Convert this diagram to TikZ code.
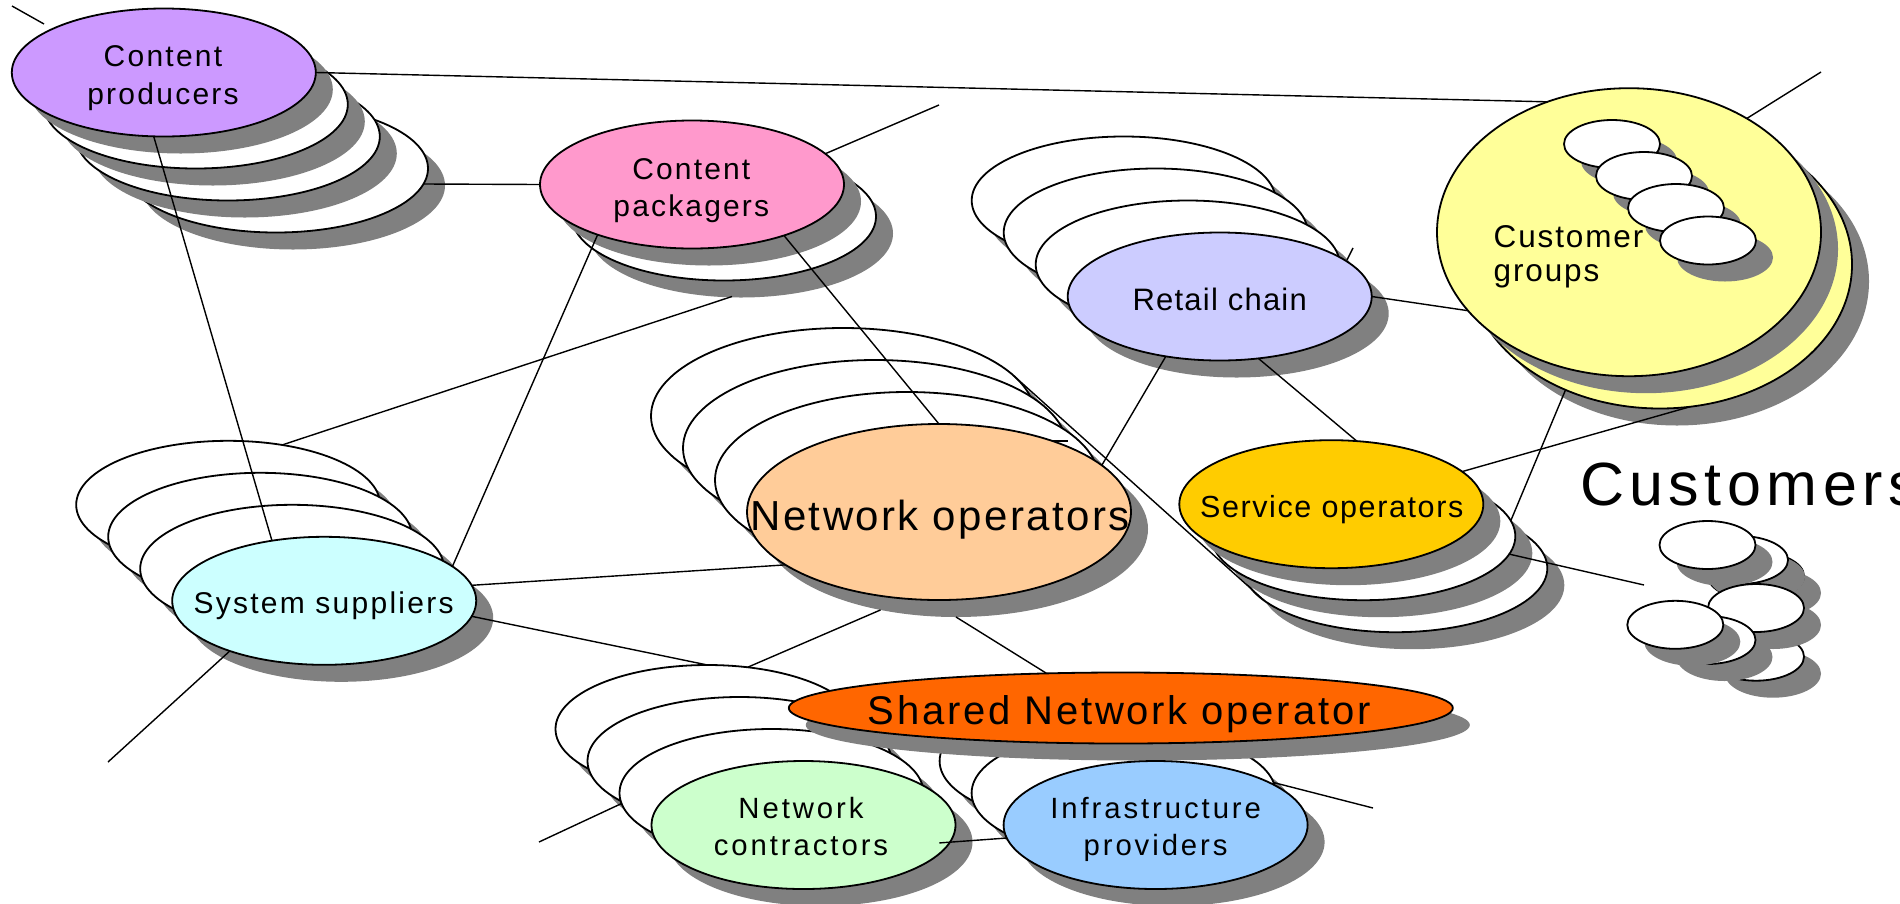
\documentclass[tikz,border=0pt]{standalone}
\usepackage{fontspec}
\setmainfont{Liberation Sans}
\usetikzlibrary{shapes.geometric,shadows,calc}

\definecolor{cprod}{HTML}{CC99FF}
\definecolor{cpack}{HTML}{FF99CC}
\definecolor{cretail}{HTML}{CCCCFF}
\definecolor{ccust}{HTML}{FFFF99}
\definecolor{cnet}{HTML}{FFCC99}
\definecolor{cserv}{HTML}{FFCC00}
\definecolor{csys}{HTML}{CCFFFF}
\definecolor{cshared}{HTML}{FF6600}
\definecolor{ccontr}{HTML}{CCFFCC}
\definecolor{cinfra}{HTML}{99CCFF}
\definecolor{shgray}{HTML}{808080}

% label font: size, line pitch, letter spacing
\newcommand\lblfont[3]{\fontsize{#1}{#2}\selectfont\addfontfeature{LetterSpace=#3}}
\newcommand\twolines[2]{\begin{tabular}[t]{@{}c@{}}#1\\#2\end{tabular}}
\newcommand\twoleft[2]{\begin{tabular}[t]{@{}l@{}}#1\\#2\end{tabular}}

\tikzset{
  ell/.style={ellipse, draw=black, line width=1.8pt, inner sep=0pt, outer sep=0pt,
    drop shadow={shadow xshift=17pt, shadow yshift=-17pt, opacity=1, fill=shgray}},
  blank/.style={ell, fill=white},
  std/.style={minimum width=304pt, minimum height=128pt},
  wide/.style={minimum width=384pt, minimum height=176pt},
  big/.style={minimum width=384pt, minimum height=288pt},
  dot/.style={minimum width=96pt, minimum height=48pt},
  flat/.style={minimum width=664pt, minimum height=71pt},
  link/.style={line width=1.4pt},
  lbl/.style={inner sep=0pt, outer sep=0pt, anchor=base},
}

\begin{document}
\begin{tikzpicture}[x=1pt, y=-1pt]
\useasboundingbox (0,0) rectangle (1900,903);
\fill[white] (0,0) rectangle (1900,903);

% Content producers stack
\node[blank, std] (P3) at (276,168.5) {};
\node[blank, std] (P2) at (227.8,136.5) {};
\node[blank, std] (P1) at (195.8,104.5) {};
\node[ell, std, fill=cprod] (P0) at (163.8,72.5) {};

% Content packagers stack
\node[blank, std] (K1) at (724,216.5) {};
\node[ell, std, fill=cpack] (K0) at (692,184.5) {};

% Retail chain stack
\node[blank, std] (R3) at (1123.7,200.5) {};
\node[blank, std] (R2) at (1155.7,232.5) {};
\node[blank, std] (R1) at (1187.7,264.5) {};
\node[ell, std, fill=cretail] (R0) at (1219.7,296.5) {};

% Customer groups
\node[ell, big, fill=ccust] (G1) at (1660,264.5) {};
\node[ell, big, fill=ccust] (G0) at (1629,232.2) {};
\node[blank, dot] (g1) at (1612,144) {};
\node[blank, dot] (g2) at (1644,176) {};
\node[blank, dot] (g3) at (1676,208) {};
\node[blank, dot] (g4) at (1708,240.5) {};

% Network operators stack
\node[blank, wide] (N3) at (843,416) {};
\node[blank, wide] (N2) at (875,448) {};
\node[blank, wide] (N1) at (907,480) {};
\node[ell, wide, fill=cnet] (N0) at (939,512) {};

% Service operators stack
\node[blank, std] (S2) at (1395.3,568.2) {};
\node[blank, std] (S1) at (1363.3,536.2) {};
\node[ell, std, fill=cserv] (S0) at (1331.3,504.2) {};

% System suppliers stack
\node[blank, std] (Y3) at (228.2,504.8) {};
\node[blank, std] (Y2) at (260.2,536.8) {};
\node[blank, std] (Y1) at (292.2,568.8) {};
\node[ell, std, fill=csys] (Y0) at (324.2,600.8) {};

% Network contractors and infrastructure providers, shared operator on top
\node[blank, std] (C3) at (707.5,729) {};
\node[blank, std] (C2) at (739.5,761) {};
\node[blank, std] (C1) at (771.5,793) {};
\node[blank, std] (I2) at (1091.6,761) {};
\node[blank, std] (I1) at (1123.6,793) {};
\node[ell, flat, fill=cshared] (H) at (1120.8,708) {};
\node[ell, std, fill=ccontr] (C0) at (803.5,825) {};
\node[ell, std, fill=cinfra] (I0) at (1155.6,825) {};

% Customers
\node[blank, dot] (cb2) at (1756,576) {};
\node[blank, dot] (cb) at (1740,560) {};
\node[blank, dot] (ca) at (1707.5,545) {};
\node[blank, dot] (cf) at (1756,656.7) {};
\node[blank, dot] (cc) at (1756,608) {};
\node[blank, dot] (ce) at (1707.5,640) {};
\node[blank, dot] (cd) at (1675.3,624.8) {};

% free ends of open connectors
\coordinate (pA) at (12,6);
\coordinate (pB) at (44,24);
\coordinate (kEnd) at (939,105);
\coordinate (rA) at (1353,248);
\coordinate (rB) at (1347,260);
\coordinate (dA) at (1053,441);
\coordinate (dB) at (1068,441);
\coordinate (gEnd) at (1821,72);
\coordinate (yEnd) at (108,762);
\coordinate (cEnd) at (539,842);
\coordinate (iEnd) at (1373,808);
\coordinate (sEnd) at (1644,585);
\coordinate (k1sh) at ([shift={(8,16)}]K1.south);
\coordinate (n0shA) at ([shift={(17,17)}]N0.227.8);
\coordinate (n0shB) at ([shift={(17,17)}]N0.south);
\coordinate (c0in) at ([xshift=-10pt]C0.353.5);

% connectors
\draw[link] (pB) -- (pA);
\draw[link] (P0.east) -- (G0.122.9);
\draw[link] (P0.261.8) -- (Y0.131.9);
\draw[link] (P3.354.2) -- (K0.west);
\draw[link] (K0.13.1) -- (kEnd);
\draw[link] (K0.208.9) -- (Y0.15.1);
\draw[link] (K0.331.5) -- (N0.north);
\draw[link] (k1sh) -- (Y3.48.8);
\draw[link] (n0shA) -- (C3.57.4);
\draw[link] (n0shB) -- (H.155);
\draw[link] (R0.east) -- (G0.206.7);
\draw[link] (R0.228.6) -- (N0.16.2);
\draw[link] (R0.302.1) -- (S0.68.4);
\draw[link] (rA) -- (rB);
\draw[link] (dA) -- (dB);
\draw[link] (G0.44.7) -- (gEnd);
\draw[link] (G1.233.4) -- (S1.6);
\draw[link] (G1.282.5) -- (S0.14.3);
\draw[link] (N3.13.4) -- (S2.194.8);
\draw[link] (N0.199.8) -- (Y0.6.1);
\draw[link] (Y0.354.1) -- (C3.north);
\draw[link] (Y0.208.4) -- (yEnd);
\draw[link] (C1.184) -- (cEnd);
\draw[link] (c0in) -- (I0.185.9);
\draw[link] (I1.4.3) -- (iEnd);
\draw[link] (S1.353.6) -- (sEnd);

% labels
\node[lbl, font=\lblfont{30}{37.6}{7.5}] (tP) at (163,66.7) {\twolines{Content}{producers}};
\node[lbl, font=\lblfont{30}{37.4}{7.2}] (tK) at (691.3,179.3) {\twolines{Content}{packagers}};
\node[lbl, font=\lblfont{30}{36}{7.5}] (tY) at (323.6,613.3) {System suppliers};
\node[lbl, font=\lblfont{31}{37}{4}] (tR) at (1219.7,310) {Retail chain};
\node[lbl, font=\lblfont{30.5}{37}{5.3}] (tS) at (1331.7,517.3) {Service operators};
\node[lbl, font=\lblfont{42}{50}{5.7}] (tN) at (940,530) {Network operators};
\node[lbl, font=\lblfont{40}{48}{7}] (tH) at (1119,724) {Shared Network operator};
\node[lbl, font=\lblfont{29.3}{36.7}{10}] (tC) at (801,818.3) {\twolines{Network}{contractors}};
\node[lbl, font=\lblfont{29.3}{36.7}{10}] (tI) at (1155.6,818.3) {\twolines{Infrastructure}{providers}};
\node[lbl, anchor=base west, font=\lblfont{31.5}{34.2}{6}] (tG) at (1493.6,247.5) {\twoleft{Customer}{groups}};
\node[lbl, anchor=base west, font=\lblfont{61}{70}{9}] (tCu) at (1580,505) {Customers};
\end{tikzpicture}
\end{document}
